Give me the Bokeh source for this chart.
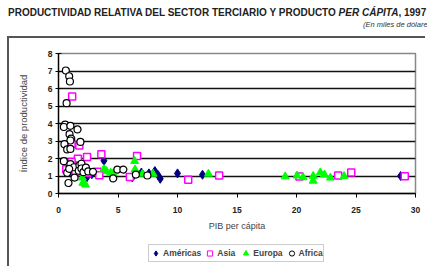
from bokeh.plotting import figure
from bokeh.models import Legend, LegendItem, FixedTicker, Range1d, Div
from bokeh.layouts import column
from bokeh.embed import file_html
from bokeh.resources import INLINE

# Data (PIB per cápita, índice de productividad)
americas_x = [3.82, 6.2, 6.97, 7.6, 8.1, 8.37, 8.55, 10.0, 12.1, 28.75, 2.36, 0.9, 2.8]
americas_y = [1.87, 0.92, 1.2, 1.15, 1.28, 1.05, 0.84, 1.15, 1.07, 1.0, 0.9, 1.2, 1.1]

asia_x = [1.15, 1.75, 1.1, 1.63, 2.4, 3.6, 6.6, 0.65, 1.29, 1.43, 2.42, 3.26, 3.43, 6.0, 10.9, 13.5, 20.25, 23.5, 24.6, 29.1, 1.1]
asia_y = [5.55, 2.75, 2.85, 1.98, 2.08, 2.25, 2.15, 1.38, 1.6, 1.22, 1.18, 1.25, 1.05, 0.95, 0.78, 1.03, 0.97, 1.03, 1.2, 0.99, 1.8]

europa_x = [2.05, 2.27, 3.82, 4.04, 4.38, 4.6, 6.4, 6.43, 7.05, 7.95, 12.6, 19.05, 20.05, 20.55, 21.4, 21.4, 22.0, 22.35, 22.85, 24.0, 2.0]
europa_y = [0.6, 0.5, 1.4, 1.27, 1.18, 1.15, 1.85, 1.37, 1.12, 1.12, 1.12, 0.97, 1.02, 0.92, 1.0, 0.72, 1.2, 1.08, 0.9, 0.99, 0.9]

africa_x = [0.62, 0.9, 0.96, 0.68, 0.56, 0.45, 1.0, 1.6, 0.93, 1.07, 1.0, 1.84, 0.5, 0.73, 1.0, 0.45, 1.0, 1.3, 1.76, 1.93,
            0.73, 0.9, 1.35, 0.84, 1.7, 1.93, 2.1, 2.3, 2.5, 2.9, 4.6, 4.95, 5.45, 6.5, 7.47]
africa_y = [7.03, 6.7, 6.4, 5.16, 3.94, 3.8, 3.87, 3.66, 3.39, 3.14, 3.03, 2.95, 2.82, 2.52, 2.55, 1.85, 1.68, 1.5, 1.6, 1.7,
            1.18, 1.41, 0.91, 0.6, 1.3, 1.43, 1.22, 1.48, 1.26, 1.24, 0.86, 1.37, 1.37, 1.08, 1.03]

series_names = ["Américas", "Asia", "Europa", "Africa"]
x_ticks = [0, 5, 10, 15, 20, 25, 30]
y_ticks = [0, 1, 2, 3, 4, 5, 6, 7, 8]

FONT = "Liberation Sans"
BORDER = {"margin-left": "7px", "border-left": "2px solid #555"}

title = Div(text=("<div style='font-family:\"Liberation Sans\";font-weight:bold;font-size:10px;color:#222;"
                  "white-space:nowrap;position:absolute;left:8px;top:6px'>"
                  "PRODUCTIVIDAD RELATIVA DEL SECTOR TERCIARIO Y PRODUCTO <i>PER CÁPITA</i>, 1997</div>"
                  "<div style='font-family:\"Liberation Sans\";font-style:italic;font-size:7.5px;color:#333;"
                  "white-space:nowrap;position:absolute;left:363px;top:20px'>(En miles de dólares)</div>"),
            width=427, height=36, styles={"margin": "0", "padding": "0"})

p = figure(width=418, height=196, output_backend="svg", toolbar_location=None,
           x_range=Range1d(0, 30), y_range=Range1d(0, 8),
           min_border_left=49, min_border_right=12, min_border_top=15, min_border_bottom=41,
           styles=dict(BORDER, **{"border-top": "2px solid #555"}))

p.background_fill_color = "white"
p.outline_line_color = "#888888"
p.outline_line_width = 1.5

p.xgrid.grid_line_color = None
p.ygrid.grid_line_color = "#111111"
p.ygrid.grid_line_width = 1.3

p.xaxis.ticker = FixedTicker(ticks=x_ticks)
p.yaxis.ticker = FixedTicker(ticks=y_ticks)
for ax in (p.xaxis, p.yaxis):
    ax.axis_line_color = "black"
    ax.axis_line_width = 1.3
    ax.major_tick_line_color = "black"
    ax.minor_tick_line_color = None
    ax.major_label_text_font = FONT
    ax.major_label_text_font_style = "bold"
    ax.major_label_text_font_size = "8.5px"
    ax.major_label_text_color = "#222222"
    ax.axis_label_text_font = FONT
    ax.axis_label_text_font_style = "normal"
    ax.axis_label_text_color = "#444444"

p.xaxis.major_tick_in = 0
p.xaxis.major_tick_out = 4
p.xaxis.major_label_standoff = 9
p.xaxis.axis_label = "PIB per cápita"
p.xaxis.axis_label_text_font_size = "9px"
p.xaxis.axis_label_standoff = 5

p.yaxis.major_tick_in = 3
p.yaxis.major_tick_out = 3
p.yaxis.major_label_standoff = 3
p.yaxis.axis_label = "Índice de productividad"
p.yaxis.axis_label_text_font_size = "9.5px"
p.yaxis.axis_label_standoff = 16

STYLES = [dict(marker="diamond", size=9, fill_color="#000080", line_color="#000080"),
          dict(marker="square", size=7, fill_color="white", line_color="#FF00FF", line_width=1.5),
          dict(marker="triangle", size=8, fill_color="#00FF00", line_color="#00FF00"),
          dict(marker="circle", size=7, fill_color="white", line_color="black", line_width=1.2)]

all_x = [americas_x, asia_x, europa_x, africa_x]
all_y = [americas_y, asia_y, europa_y, africa_y]
for xs, ys, st in zip(all_x, all_y, STYLES):
    p.scatter(xs, ys, **st)

# legend in its own strip below the chart (series drawn out of view, only the legend shows)
lg = figure(width=418, height=34, output_backend="svg", toolbar_location=None,
            x_range=Range1d(-200, -199), y_range=Range1d(-200, -199),
            x_axis_location=None, y_axis_location=None,
            min_border_left=0, min_border_right=0, min_border_top=0, min_border_bottom=0,
            styles=BORDER)
lg.grid.grid_line_color = None
lg.outline_line_color = None
items = []
for name, xs, ys, st in zip(series_names, all_x, all_y, STYLES):
    st2 = dict(st)
    st2["line_width"] = 1.0
    r = lg.scatter(xs, ys, **st2)
    items.append(LegendItem(label=name, renderers=[r], index=0))
legend = Legend(items=items, orientation="horizontal", location=(90, 4),
                label_text_font=FONT, label_text_font_style="bold", label_text_font_size="8.5px",
                glyph_width=13, glyph_height=16, label_standoff=1, spacing=2, padding=0,
                label_height=9, border_line_color="#999999", margin=0)
lg.add_layout(legend)

layout = column(title, p, lg, spacing=0)
open("out.html", "w").write(file_html(layout, INLINE))
